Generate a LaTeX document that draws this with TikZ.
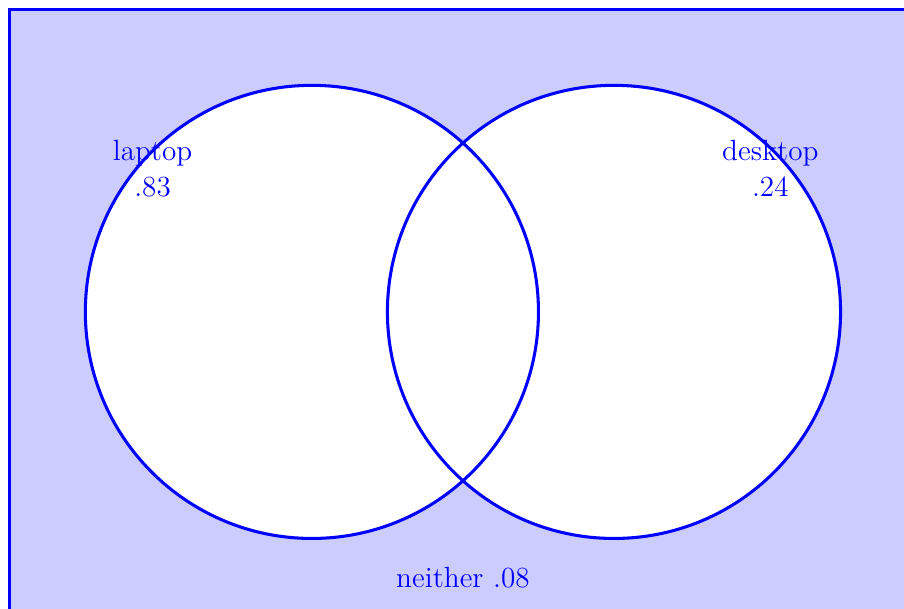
\documentclass[tikz,border=0pt]{standalone}
\begin{document}
\begin{tikzpicture}[
  setline/.style={draw=blue, line width=1.15pt},
  setcirc/.style={setline, circle, minimum size=6cm, inner sep=0pt},
  lbl/.style={text=blue, align=center, font=\fontsize{11}{13.6}\selectfont}
]
\useasboundingbox (-4.13,-3.93) rectangle (7.84,4.13);
\draw[setline, fill=blue!20] (-4,-5) rectangle (9,4);
\fill[white] (0,0) circle (3) (4,0) circle (3);
\node[setcirc] (L) at (0,0) {};
\node[setcirc] (R) at (4,0) {};
\node[lbl] (lap) at (-2.11,1.9) {laptop\\.83};
\node[lbl] (desk) at (6.07,1.9) {desktop\\.24};
\node[lbl] (nei) at (2.0,-3.52) {neither .08};
\end{tikzpicture}
\end{document}
